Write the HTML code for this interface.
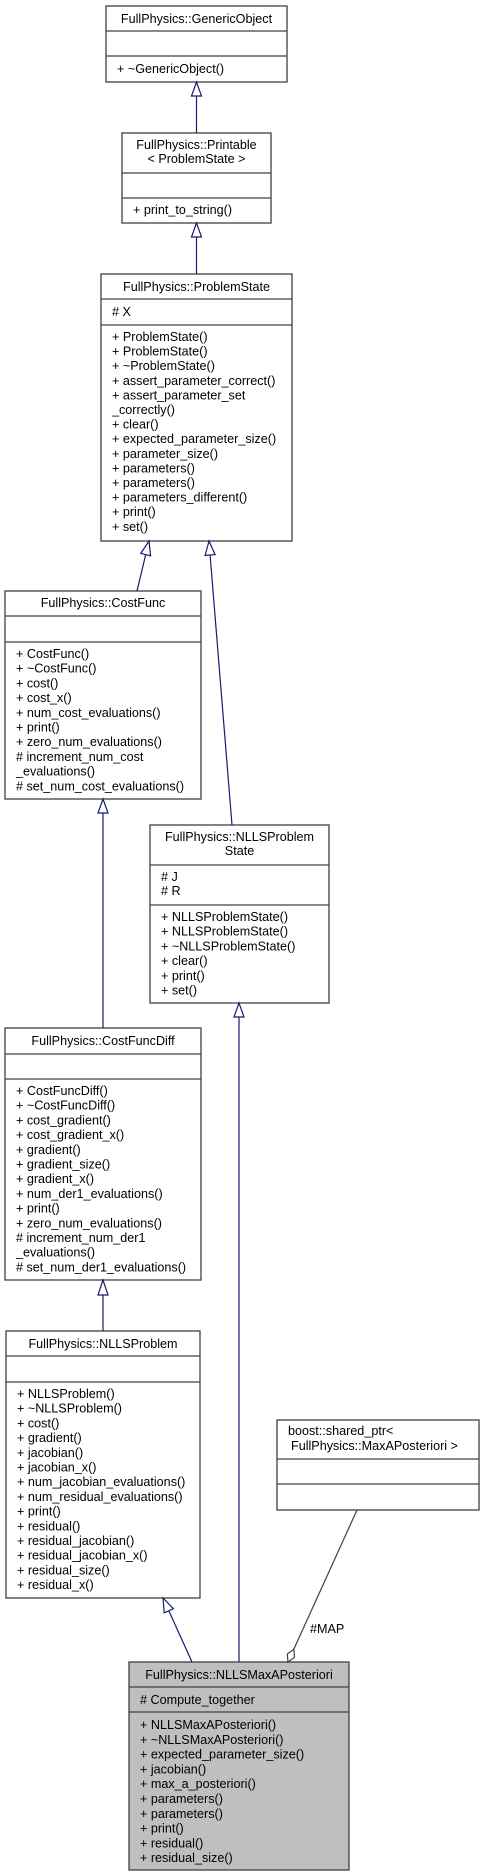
<!DOCTYPE html>
<html><head><meta charset="utf-8">
<style>
html,body{margin:0;padding:0;background:#fff;}
svg{display:block;}
text{font-family:"Liberation Sans",sans-serif;font-size:12.6px;fill:#000;}
</style></head>
<body>
<svg width="485" height="1876" viewBox="0 0 485 1876" xmlns="http://www.w3.org/2000/svg">
<g fill="#fff" stroke="#404040" stroke-width="1.3">
<rect x="106" y="6" width="181" height="76"/>
<line x1="106" y1="31" x2="287" y2="31"/><line x1="106" y1="56" x2="287" y2="56"/>
<rect x="122" y="133" width="149" height="90"/>
<line x1="122" y1="173" x2="271" y2="173"/><line x1="122" y1="198" x2="271" y2="198"/>
<rect x="101" y="274" width="191" height="267"/>
<line x1="101" y1="299" x2="292" y2="299"/><line x1="101" y1="325" x2="292" y2="325"/>
<rect x="5" y="591" width="196" height="208"/>
<line x1="5" y1="616" x2="201" y2="616"/><line x1="5" y1="642" x2="201" y2="642"/>
<rect x="150" y="825" width="179" height="178"/>
<line x1="150" y1="865" x2="329" y2="865"/><line x1="150" y1="905" x2="329" y2="905"/>
<rect x="5" y="1028" width="196" height="252"/>
<line x1="5" y1="1054" x2="201" y2="1054"/><line x1="5" y1="1079" x2="201" y2="1079"/>
<rect x="6" y="1331" width="194" height="267"/>
<line x1="6" y1="1356" x2="200" y2="1356"/><line x1="6" y1="1382" x2="200" y2="1382"/>
<rect x="277" y="1420" width="202" height="90"/>
<line x1="277" y1="1459" x2="479" y2="1459"/><line x1="277" y1="1484" x2="479" y2="1484"/>
<rect x="129" y="1662" width="220" height="208" fill="#bfbfbf"/>
<line x1="129" y1="1687" x2="349" y2="1687"/><line x1="129" y1="1712" x2="349" y2="1712"/>
</g>

<!-- edges -->
<g stroke="#191970" stroke-width="1.2" fill="#fff">
<line x1="196.5" y1="96" x2="196.5" y2="133"/>
<polygon points="196.5,82 191.5,96 201.5,96"/>
<line x1="196.5" y1="237" x2="196.5" y2="274"/>
<polygon points="196.5,223 191.5,237 201.5,237"/>
<line x1="145.7" y1="554.6" x2="137" y2="591"/>
<polygon points="149,541 150.6,555.8 140.8,553.4"/>
<line x1="210.1" y1="555" x2="232" y2="825"/>
<polygon points="209,541 215.1,554.6 205.1,555.4"/>
<line x1="103" y1="813" x2="103" y2="1028"/>
<polygon points="103,799 98,813 108,813"/>
<line x1="239" y1="1017" x2="239" y2="1662"/>
<polygon points="239,1003 234,1017 244,1017"/>
<line x1="103" y1="1295" x2="103" y2="1331"/>
<polygon points="103,1280 98,1295 108,1295"/>
<line x1="168.8" y1="1610.8" x2="192" y2="1662"/>
<polygon points="163,1598 173.4,1608.7 164.2,1612.9"/>
</g>
<g stroke="#404040" stroke-width="1.2" fill="#fff">
<line x1="293.8" y1="1649.3" x2="357" y2="1510"/>
<polygon points="288,1662 294.5,1657.3 293.8,1649.3 287.3,1654"/>
</g>
<text x="310" y="1633">#MAP</text>

<!-- text -->
<g text-anchor="middle">
<text x="196.5" y="23">FullPhysics::GenericObject</text>
<text x="196.5" y="149">FullPhysics::Printable</text>
<text x="196.5" y="163">&lt; ProblemState &gt;</text>
<text x="196.5" y="291">FullPhysics::ProblemState</text>
<text x="103" y="607">FullPhysics::CostFunc</text>
<text x="239.5" y="841">FullPhysics::NLLSProblem</text>
<text x="239.5" y="855">State</text>
<text x="103" y="1045">FullPhysics::CostFuncDiff</text>
<text x="103" y="1348">FullPhysics::NLLSProblem</text>
<text x="239" y="1679">FullPhysics::NLLSMaxAPosteriori</text>
</g>
<text x="288" y="1435">boost::shared_ptr&lt;</text>
<text x="291" y="1450">FullPhysics::MaxAPosteriori &gt;</text>

<text x="117" y="73">+ ~GenericObject()</text>
<text x="133" y="214">+ print_to_string()</text>

<text x="112" y="316"># X</text>
<g>
<text x="112" y="341">+ ProblemState()</text>
<text x="112" y="355.6">+ ProblemState()</text>
<text x="112" y="370.2">+ ~ProblemState()</text>
<text x="112" y="384.8">+ assert_parameter_correct()</text>
<text x="112" y="399.4">+ assert_parameter_set</text>
<text x="112" y="414">_correctly()</text>
<text x="112" y="428.6">+ clear()</text>
<text x="112" y="443.2">+ expected_parameter_size()</text>
<text x="112" y="457.8">+ parameter_size()</text>
<text x="112" y="472.4">+ parameters()</text>
<text x="112" y="487">+ parameters()</text>
<text x="112" y="501.6">+ parameters_different()</text>
<text x="112" y="516.2">+ print()</text>
<text x="112" y="530.8">+ set()</text>
</g>

<g>
<text x="16" y="658">+ CostFunc()</text>
<text x="16" y="672.7">+ ~CostFunc()</text>
<text x="16" y="687.4">+ cost()</text>
<text x="16" y="702.1">+ cost_x()</text>
<text x="16" y="716.8">+ num_cost_evaluations()</text>
<text x="16" y="731.5">+ print()</text>
<text x="16" y="746.2">+ zero_num_evaluations()</text>
<text x="16" y="760.9"># increment_num_cost</text>
<text x="16" y="775.6">_evaluations()</text>
<text x="16" y="790.3"># set_num_cost_evaluations()</text>
</g>

<text x="161" y="881"># J</text>
<text x="161" y="895"># R</text>
<g>
<text x="161" y="921">+ NLLSProblemState()</text>
<text x="161" y="935.7">+ NLLSProblemState()</text>
<text x="161" y="950.4">+ ~NLLSProblemState()</text>
<text x="161" y="965.1">+ clear()</text>
<text x="161" y="979.8">+ print()</text>
<text x="161" y="994.5">+ set()</text>
</g>

<g>
<text x="16" y="1095">+ CostFuncDiff()</text>
<text x="16" y="1109.7">+ ~CostFuncDiff()</text>
<text x="16" y="1124.4">+ cost_gradient()</text>
<text x="16" y="1139.1">+ cost_gradient_x()</text>
<text x="16" y="1153.8">+ gradient()</text>
<text x="16" y="1168.5">+ gradient_size()</text>
<text x="16" y="1183.2">+ gradient_x()</text>
<text x="16" y="1197.9">+ num_der1_evaluations()</text>
<text x="16" y="1212.6">+ print()</text>
<text x="16" y="1227.3">+ zero_num_evaluations()</text>
<text x="16" y="1242"># increment_num_der1</text>
<text x="16" y="1256.7">_evaluations()</text>
<text x="16" y="1271.4"># set_num_der1_evaluations()</text>
</g>

<g>
<text x="17" y="1398">+ NLLSProblem()</text>
<text x="17" y="1412.7">+ ~NLLSProblem()</text>
<text x="17" y="1427.4">+ cost()</text>
<text x="17" y="1442.1">+ gradient()</text>
<text x="17" y="1456.8">+ jacobian()</text>
<text x="17" y="1471.5">+ jacobian_x()</text>
<text x="17" y="1486.2">+ num_jacobian_evaluations()</text>
<text x="17" y="1500.9">+ num_residual_evaluations()</text>
<text x="17" y="1515.6">+ print()</text>
<text x="17" y="1530.3">+ residual()</text>
<text x="17" y="1545">+ residual_jacobian()</text>
<text x="17" y="1559.7">+ residual_jacobian_x()</text>
<text x="17" y="1574.4">+ residual_size()</text>
<text x="17" y="1589.1">+ residual_x()</text>
</g>

<text x="140" y="1704"># Compute_together</text>
<g>
<text x="140" y="1729">+ NLLSMaxAPosteriori()</text>
<text x="140" y="1743.8">+ ~NLLSMaxAPosteriori()</text>
<text x="140" y="1758.6">+ expected_parameter_size()</text>
<text x="140" y="1773.4">+ jacobian()</text>
<text x="140" y="1788.2">+ max_a_posteriori()</text>
<text x="140" y="1803">+ parameters()</text>
<text x="140" y="1817.8">+ parameters()</text>
<text x="140" y="1832.6">+ print()</text>
<text x="140" y="1847.4">+ residual()</text>
<text x="140" y="1862.2">+ residual_size()</text>
</g>
</svg>
</body></html>
